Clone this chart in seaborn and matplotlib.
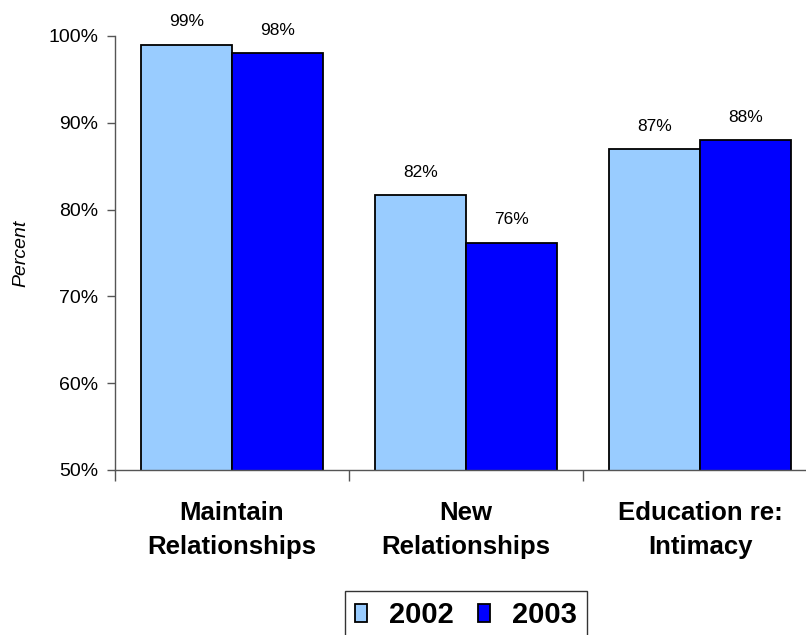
import matplotlib
matplotlib.use("Agg")
import matplotlib.pyplot as plt
import matplotlib.ticker as mticker
import seaborn as sns
import pandas as pd

categories = ["Maintain\nRelationships", "New\nRelationships", "Education re:\nIntimacy"]
years = ["2002", "2003"]
values_2002 = [99, 81.7, 87]
values_2003 = [98, 76.2, 88]
palette = ["#99CCFF", "#0000FF"]

df = pd.DataFrame({
    "category": categories * 2,
    "year": [years[0]] * 3 + [years[1]] * 3,
    "percent": values_2002 + values_2003,
})

sns.set_theme(style="white")
plt.rcParams["font.family"] = ["Liberation Sans", "DejaVu Sans"]
plt.rcParams["text.color"] = "black"
plt.rcParams["axes.labelcolor"] = "black"
plt.rcParams["xtick.labelcolor"] = "black"
plt.rcParams["ytick.labelcolor"] = "black"

fig = plt.figure(figsize=(8.06, 6.35), dpi=100)
ax = fig.add_axes([115 / 806, 1 - 470 / 635, 702 / 806, 434 / 635])

sns.barplot(data=df, x="category", y="percent", hue="year", order=categories,
            hue_order=years, palette=palette, saturation=1, width=0.78, gap=0,
            edgecolor="black", linewidth=1.3, ax=ax, legend=True)

ax.set_ylim(50, 100)
ax.set_xlim(-0.5, 2.5)
ax.yaxis.set_major_locator(mticker.MultipleLocator(10))
ax.yaxis.set_major_formatter(mticker.FuncFormatter(lambda v, p: f"{v:.0f}%"))
ax.tick_params(axis="y", which="major", direction="out", length=6, width=1,
               color="#555555", labelsize=14, pad=6, left=True,
               labelcolor="black")

# category separators below the axis, labels centred between them
ax.set_xticks([-0.5, 0.5, 1.5], minor=True)
ax.tick_params(axis="x", which="minor", direction="out", length=8, width=1,
               color="#555555", bottom=True)
ax.tick_params(axis="x", which="major", length=0, pad=22, labelcolor="black")
ax.set_xticks(range(len(categories)))
ax.set_xticklabels(categories, fontsize=18.5, fontweight="bold", linespacing=1.55)

ax.set_xlabel("")
ax.set_ylabel("Percent", fontsize=14, fontstyle="italic", color="black")
ax.yaxis.set_label_coords(-(115 - 29) / 702, 0.5)

for side in ["top", "right"]:
    ax.spines[side].set_visible(False)
for side in ["left", "bottom"]:
    ax.spines[side].set_color("#555555")
    ax.spines[side].set_linewidth(1)

for container in ax.containers:
    ax.bar_label(container, labels=[f"{v:.0f}%" for v in container.datavalues],
                 padding=11, fontsize=12.5, color="black")

ax.legend_.remove()
handles = [plt.Rectangle((0, 0), 1, 1, facecolor=c, edgecolor="black", linewidth=1.3)
           for c in palette]
leg = fig.legend(handles, years, loc="upper center",
                 bbox_to_anchor=(466 / 806, 1 - 591 / 635), ncol=2,
                 prop={"size": 21, "weight": "bold"}, frameon=True,
                 fancybox=False, edgecolor="black", handlelength=0.4,
                 handleheight=0.55, handletextpad=0.75, columnspacing=0.85,
                 borderpad=0.35, borderaxespad=0)
leg.get_frame().set_linewidth(1)

fig.savefig("out.png", dpi=100)
